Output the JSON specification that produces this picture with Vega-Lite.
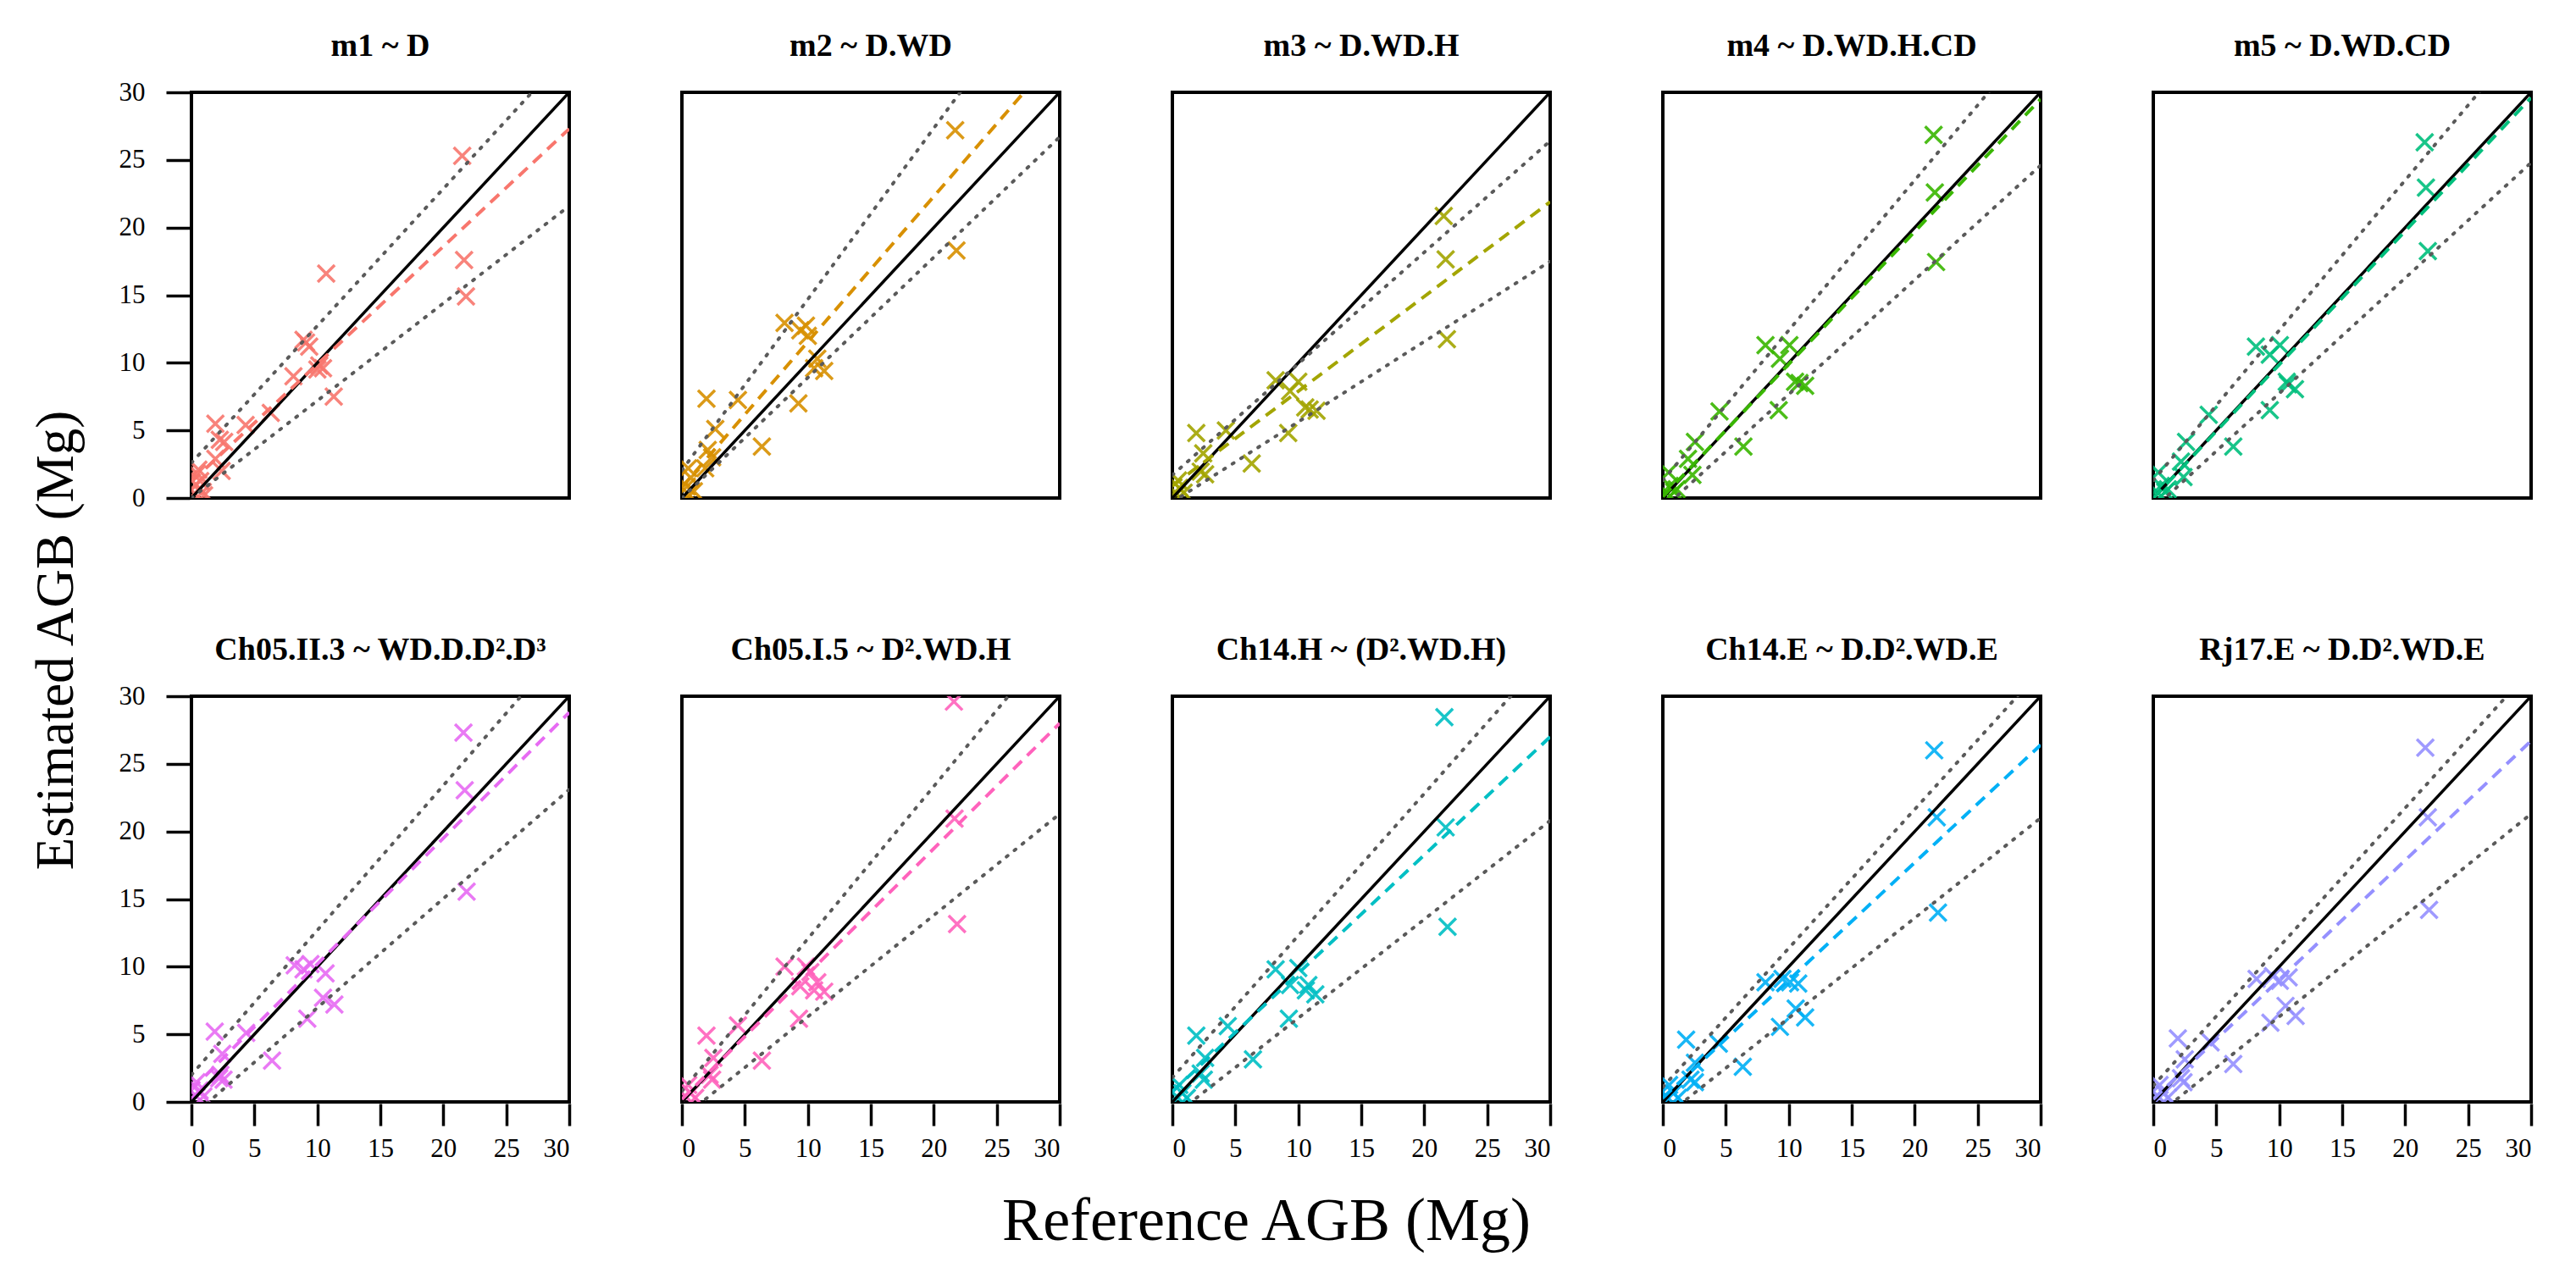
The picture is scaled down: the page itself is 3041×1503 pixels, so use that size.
{
"$schema":"https://vega.github.io/schema/vega-lite/v6.json",
"background":"white",
"padding":{"left":35,"top":34,"right":10,"bottom":10},
"config":{
  "font":"Liberation Serif",
  "view":{"stroke":"black","strokeWidth":4},
  "axis":{"grid":false,"domain":false,"labelFont":"Liberation Serif","labelFontSize":31,"labelColor":"black","tickColor":"black","tickWidth":3.5},
  "title":{"font":"Liberation Serif","fontWeight":"normal","color":"black"}
},
"title":{"text":"Estimated AGB (Mg)","orient":"left","anchor":"middle","frame":"bounds","fontSize":63,"offset":41},
"vconcat":[{
  "title":{"text":"Reference AGB (Mg)","orient":"bottom","anchor":"middle","frame":"bounds","fontSize":72,"offset":36,"dx":-70},
  "data":{"values":[
{"p":"m1 ~ D","k":"pt","x":21.5,"y":25.3},{"p":"m1 ~ D","k":"pt","x":21.65,"y":17.6},{"p":"m1 ~ D","k":"pt","x":21.8,"y":14.9},{"p":"m1 ~ D","k":"pt","x":10.7,"y":16.6},{"p":"m1 ~ D","k":"pt","x":9.1,"y":11.5},{"p":"m1 ~ D","k":"pt","x":9.35,"y":11.2},{"p":"m1 ~ D","k":"pt","x":8.9,"y":11.7},{"p":"m1 ~ D","k":"pt","x":10.15,"y":9.8},{"p":"m1 ~ D","k":"pt","x":10.45,"y":9.6},{"p":"m1 ~ D","k":"pt","x":10.0,"y":9.5},{"p":"m1 ~ D","k":"pt","x":11.3,"y":7.5},{"p":"m1 ~ D","k":"pt","x":8.1,"y":9.0},{"p":"m1 ~ D","k":"pt","x":6.3,"y":6.3},{"p":"m1 ~ D","k":"pt","x":4.3,"y":5.4},{"p":"m1 ~ D","k":"pt","x":1.9,"y":5.5},{"p":"m1 ~ D","k":"pt","x":2.25,"y":4.3},{"p":"m1 ~ D","k":"pt","x":2.6,"y":4.15},{"p":"m1 ~ D","k":"pt","x":1.9,"y":2.9},{"p":"m1 ~ D","k":"pt","x":2.4,"y":2.0},{"p":"m1 ~ D","k":"pt","x":0.45,"y":1.8},{"p":"m1 ~ D","k":"pt","x":0.7,"y":1.25},{"p":"m1 ~ D","k":"pt","x":0.35,"y":1.0},{"p":"m1 ~ D","k":"pt","x":0.9,"y":0.45},{"p":"m1 ~ D","k":"pt","x":0.25,"y":0.35},{"p":"m1 ~ D","k":"pt","x":0.55,"y":2.1},{"p":"m1 ~ D","k":"pt","x":1.0,"y":0.2},
{"p":"m1 ~ D","k":"id","x":0,"y":0},{"p":"m1 ~ D","k":"id","x":30,"y":30},{"p":"m1 ~ D","k":"fit","x":0,"y":1.2},{"p":"m1 ~ D","k":"fit","x":30,"y":27.3},{"p":"m1 ~ D","k":"up","x":0,"y":2.6},{"p":"m1 ~ D","k":"up","x":30,"y":33.0},{"p":"m1 ~ D","k":"lo","x":0,"y":0},{"p":"m1 ~ D","k":"lo","x":30,"y":21.6},
{"p":"m2 ~ D.WD","k":"pt","x":21.7,"y":27.2},{"p":"m2 ~ D.WD","k":"pt","x":21.8,"y":18.3},{"p":"m2 ~ D.WD","k":"pt","x":8.15,"y":12.95},{"p":"m2 ~ D.WD","k":"pt","x":9.85,"y":12.75},{"p":"m2 ~ D.WD","k":"pt","x":9.4,"y":12.4},{"p":"m2 ~ D.WD","k":"pt","x":10.0,"y":12.0},{"p":"m2 ~ D.WD","k":"pt","x":10.75,"y":10.3},{"p":"m2 ~ D.WD","k":"pt","x":10.5,"y":9.6},{"p":"m2 ~ D.WD","k":"pt","x":11.3,"y":9.4},{"p":"m2 ~ D.WD","k":"pt","x":9.25,"y":7.0},{"p":"m2 ~ D.WD","k":"pt","x":1.95,"y":7.35},{"p":"m2 ~ D.WD","k":"pt","x":4.45,"y":7.25},{"p":"m2 ~ D.WD","k":"pt","x":6.35,"y":3.8},{"p":"m2 ~ D.WD","k":"pt","x":2.65,"y":5.1},{"p":"m2 ~ D.WD","k":"pt","x":2.05,"y":3.55},{"p":"m2 ~ D.WD","k":"pt","x":2.4,"y":3.0},{"p":"m2 ~ D.WD","k":"pt","x":1.85,"y":2.2},{"p":"m2 ~ D.WD","k":"pt","x":0.5,"y":2.2},{"p":"m2 ~ D.WD","k":"pt","x":0.7,"y":1.5},{"p":"m2 ~ D.WD","k":"pt","x":0.4,"y":0.85},{"p":"m2 ~ D.WD","k":"pt","x":0.95,"y":0.5},{"p":"m2 ~ D.WD","k":"pt","x":0.5,"y":0.3},
{"p":"m2 ~ D.WD","k":"id","x":0,"y":0},{"p":"m2 ~ D.WD","k":"id","x":30,"y":30},{"p":"m2 ~ D.WD","k":"fit","x":0,"y":0.8},{"p":"m2 ~ D.WD","k":"fit","x":30,"y":33.05},{"p":"m2 ~ D.WD","k":"up","x":0,"y":2.05},{"p":"m2 ~ D.WD","k":"up","x":30,"y":40.0},{"p":"m2 ~ D.WD","k":"lo","x":0,"y":0},{"p":"m2 ~ D.WD","k":"lo","x":30,"y":26.7},
{"p":"m3 ~ D.WD.H","k":"pt","x":21.55,"y":20.85},{"p":"m3 ~ D.WD.H","k":"pt","x":21.7,"y":17.65},{"p":"m3 ~ D.WD.H","k":"pt","x":21.8,"y":11.75},{"p":"m3 ~ D.WD.H","k":"pt","x":8.2,"y":8.7},{"p":"m3 ~ D.WD.H","k":"pt","x":10.0,"y":8.6},{"p":"m3 ~ D.WD.H","k":"pt","x":9.35,"y":7.9},{"p":"m3 ~ D.WD.H","k":"pt","x":10.55,"y":6.7},{"p":"m3 ~ D.WD.H","k":"pt","x":10.9,"y":6.55},{"p":"m3 ~ D.WD.H","k":"pt","x":11.45,"y":6.45},{"p":"m3 ~ D.WD.H","k":"pt","x":9.2,"y":4.8},{"p":"m3 ~ D.WD.H","k":"pt","x":1.9,"y":4.8},{"p":"m3 ~ D.WD.H","k":"pt","x":4.25,"y":5.0},{"p":"m3 ~ D.WD.H","k":"pt","x":6.3,"y":2.55},{"p":"m3 ~ D.WD.H","k":"pt","x":2.45,"y":3.3},{"p":"m3 ~ D.WD.H","k":"pt","x":2.25,"y":1.95},{"p":"m3 ~ D.WD.H","k":"pt","x":2.6,"y":1.75},{"p":"m3 ~ D.WD.H","k":"pt","x":0.45,"y":1.3},{"p":"m3 ~ D.WD.H","k":"pt","x":0.55,"y":0.75},{"p":"m3 ~ D.WD.H","k":"pt","x":0.9,"y":0.4},{"p":"m3 ~ D.WD.H","k":"pt","x":0.35,"y":0.3},
{"p":"m3 ~ D.WD.H","k":"id","x":0,"y":0},{"p":"m3 ~ D.WD.H","k":"id","x":30,"y":30},{"p":"m3 ~ D.WD.H","k":"fit","x":0,"y":0.9},{"p":"m3 ~ D.WD.H","k":"fit","x":30,"y":21.9},{"p":"m3 ~ D.WD.H","k":"up","x":0,"y":1.7},{"p":"m3 ~ D.WD.H","k":"up","x":30,"y":26.4},{"p":"m3 ~ D.WD.H","k":"lo","x":0,"y":-0.3},{"p":"m3 ~ D.WD.H","k":"lo","x":30,"y":17.5},
{"p":"m4 ~ D.WD.H.CD","k":"pt","x":21.5,"y":26.85},{"p":"m4 ~ D.WD.H.CD","k":"pt","x":21.6,"y":22.6},{"p":"m4 ~ D.WD.H.CD","k":"pt","x":21.7,"y":17.45},{"p":"m4 ~ D.WD.H.CD","k":"pt","x":8.15,"y":11.3},{"p":"m4 ~ D.WD.H.CD","k":"pt","x":10.05,"y":11.3},{"p":"m4 ~ D.WD.H.CD","k":"pt","x":9.3,"y":10.3},{"p":"m4 ~ D.WD.H.CD","k":"pt","x":10.5,"y":8.6},{"p":"m4 ~ D.WD.H.CD","k":"pt","x":10.85,"y":8.5},{"p":"m4 ~ D.WD.H.CD","k":"pt","x":11.3,"y":8.3},{"p":"m4 ~ D.WD.H.CD","k":"pt","x":9.2,"y":6.5},{"p":"m4 ~ D.WD.H.CD","k":"pt","x":4.5,"y":6.4},{"p":"m4 ~ D.WD.H.CD","k":"pt","x":6.4,"y":3.8},{"p":"m4 ~ D.WD.H.CD","k":"pt","x":2.55,"y":4.15},{"p":"m4 ~ D.WD.H.CD","k":"pt","x":2.0,"y":2.9},{"p":"m4 ~ D.WD.H.CD","k":"pt","x":2.35,"y":1.7},{"p":"m4 ~ D.WD.H.CD","k":"pt","x":0.45,"y":1.9},{"p":"m4 ~ D.WD.H.CD","k":"pt","x":0.55,"y":0.9},{"p":"m4 ~ D.WD.H.CD","k":"pt","x":0.9,"y":0.45},{"p":"m4 ~ D.WD.H.CD","k":"pt","x":0.35,"y":0.35},{"p":"m4 ~ D.WD.H.CD","k":"pt","x":1.1,"y":0.65},
{"p":"m4 ~ D.WD.H.CD","k":"id","x":0,"y":0},{"p":"m4 ~ D.WD.H.CD","k":"id","x":30,"y":30},{"p":"m4 ~ D.WD.H.CD","k":"fit","x":0,"y":0.1},{"p":"m4 ~ D.WD.H.CD","k":"fit","x":30,"y":29.5},{"p":"m4 ~ D.WD.H.CD","k":"up","x":0,"y":1.3},{"p":"m4 ~ D.WD.H.CD","k":"up","x":30,"y":34.6},{"p":"m4 ~ D.WD.H.CD","k":"lo","x":0,"y":-0.8},{"p":"m4 ~ D.WD.H.CD","k":"lo","x":30,"y":24.6},
{"p":"m5 ~ D.WD.CD","k":"pt","x":21.55,"y":26.3},{"p":"m5 ~ D.WD.CD","k":"pt","x":21.65,"y":22.95},{"p":"m5 ~ D.WD.CD","k":"pt","x":21.8,"y":18.25},{"p":"m5 ~ D.WD.CD","k":"pt","x":8.15,"y":11.2},{"p":"m5 ~ D.WD.CD","k":"pt","x":10.05,"y":11.3},{"p":"m5 ~ D.WD.CD","k":"pt","x":9.25,"y":10.6},{"p":"m5 ~ D.WD.CD","k":"pt","x":10.6,"y":8.6},{"p":"m5 ~ D.WD.CD","k":"pt","x":10.7,"y":8.4},{"p":"m5 ~ D.WD.CD","k":"pt","x":11.25,"y":8.05},{"p":"m5 ~ D.WD.CD","k":"pt","x":9.25,"y":6.5},{"p":"m5 ~ D.WD.CD","k":"pt","x":4.4,"y":6.15},{"p":"m5 ~ D.WD.CD","k":"pt","x":6.35,"y":3.8},{"p":"m5 ~ D.WD.CD","k":"pt","x":2.6,"y":4.15},{"p":"m5 ~ D.WD.CD","k":"pt","x":2.2,"y":2.7},{"p":"m5 ~ D.WD.CD","k":"pt","x":2.4,"y":1.55},{"p":"m5 ~ D.WD.CD","k":"pt","x":0.4,"y":1.9},{"p":"m5 ~ D.WD.CD","k":"pt","x":0.6,"y":0.9},{"p":"m5 ~ D.WD.CD","k":"pt","x":0.95,"y":0.45},{"p":"m5 ~ D.WD.CD","k":"pt","x":0.4,"y":0.35},{"p":"m5 ~ D.WD.CD","k":"pt","x":1.15,"y":0.65},
{"p":"m5 ~ D.WD.CD","k":"id","x":0,"y":0},{"p":"m5 ~ D.WD.CD","k":"id","x":30,"y":30},{"p":"m5 ~ D.WD.CD","k":"fit","x":0,"y":0},{"p":"m5 ~ D.WD.CD","k":"fit","x":30,"y":29.6},{"p":"m5 ~ D.WD.CD","k":"up","x":0,"y":1.3},{"p":"m5 ~ D.WD.CD","k":"up","x":30,"y":34.6},{"p":"m5 ~ D.WD.CD","k":"lo","x":0,"y":-0.8},{"p":"m5 ~ D.WD.CD","k":"lo","x":30,"y":24.8},
{"p":"Ch05.II.3 ~ WD.D.D².D³","k":"pt","x":21.6,"y":27.3},{"p":"Ch05.II.3 ~ WD.D.D².D³","k":"pt","x":21.7,"y":23.05},{"p":"Ch05.II.3 ~ WD.D.D².D³","k":"pt","x":21.85,"y":15.55},{"p":"Ch05.II.3 ~ WD.D.D².D³","k":"pt","x":8.2,"y":10.1},{"p":"Ch05.II.3 ~ WD.D.D².D³","k":"pt","x":9.45,"y":10.2},{"p":"Ch05.II.3 ~ WD.D.D².D³","k":"pt","x":8.9,"y":9.8},{"p":"Ch05.II.3 ~ WD.D.D².D³","k":"pt","x":10.65,"y":9.5},{"p":"Ch05.II.3 ~ WD.D.D².D³","k":"pt","x":10.45,"y":7.7},{"p":"Ch05.II.3 ~ WD.D.D².D³","k":"pt","x":11.35,"y":7.2},{"p":"Ch05.II.3 ~ WD.D.D².D³","k":"pt","x":9.2,"y":6.15},{"p":"Ch05.II.3 ~ WD.D.D².D³","k":"pt","x":1.85,"y":5.2},{"p":"Ch05.II.3 ~ WD.D.D².D³","k":"pt","x":4.35,"y":5.1},{"p":"Ch05.II.3 ~ WD.D.D².D³","k":"pt","x":6.4,"y":3.05},{"p":"Ch05.II.3 ~ WD.D.D².D³","k":"pt","x":2.45,"y":3.55},{"p":"Ch05.II.3 ~ WD.D.D².D³","k":"pt","x":2.2,"y":1.75},{"p":"Ch05.II.3 ~ WD.D.D².D³","k":"pt","x":2.55,"y":1.65},{"p":"Ch05.II.3 ~ WD.D.D².D³","k":"pt","x":2.3,"y":2.0},{"p":"Ch05.II.3 ~ WD.D.D².D³","k":"pt","x":0.4,"y":1.45},{"p":"Ch05.II.3 ~ WD.D.D².D³","k":"pt","x":0.65,"y":0.85},{"p":"Ch05.II.3 ~ WD.D.D².D³","k":"pt","x":0.3,"y":0.5},{"p":"Ch05.II.3 ~ WD.D.D².D³","k":"pt","x":0.95,"y":0.4},
{"p":"Ch05.II.3 ~ WD.D.D².D³","k":"id","x":0,"y":0},{"p":"Ch05.II.3 ~ WD.D.D².D³","k":"id","x":30,"y":30},{"p":"Ch05.II.3 ~ WD.D.D².D³","k":"fit","x":0,"y":0.9},{"p":"Ch05.II.3 ~ WD.D.D².D³","k":"fit","x":30,"y":28.8},{"p":"Ch05.II.3 ~ WD.D.D².D³","k":"up","x":0,"y":2.0},{"p":"Ch05.II.3 ~ WD.D.D².D³","k":"up","x":30,"y":34.1},{"p":"Ch05.II.3 ~ WD.D.D².D³","k":"lo","x":0,"y":-1.1},{"p":"Ch05.II.3 ~ WD.D.D².D³","k":"lo","x":30,"y":23.1},
{"p":"Ch05.I.5 ~ D².WD.H","k":"pt","x":21.6,"y":29.6},{"p":"Ch05.I.5 ~ D².WD.H","k":"pt","x":21.65,"y":20.95},{"p":"Ch05.I.5 ~ D².WD.H","k":"pt","x":21.85,"y":13.15},{"p":"Ch05.I.5 ~ D².WD.H","k":"pt","x":8.15,"y":10.0},{"p":"Ch05.I.5 ~ D².WD.H","k":"pt","x":9.85,"y":10.0},{"p":"Ch05.I.5 ~ D².WD.H","k":"pt","x":10.2,"y":9.6},{"p":"Ch05.I.5 ~ D².WD.H","k":"pt","x":9.4,"y":8.55},{"p":"Ch05.I.5 ~ D².WD.H","k":"pt","x":10.75,"y":8.85},{"p":"Ch05.I.5 ~ D².WD.H","k":"pt","x":10.5,"y":8.25},{"p":"Ch05.I.5 ~ D².WD.H","k":"pt","x":11.3,"y":8.15},{"p":"Ch05.I.5 ~ D².WD.H","k":"pt","x":9.3,"y":6.15},{"p":"Ch05.I.5 ~ D².WD.H","k":"pt","x":1.95,"y":4.9},{"p":"Ch05.I.5 ~ D².WD.H","k":"pt","x":4.45,"y":5.65},{"p":"Ch05.I.5 ~ D².WD.H","k":"pt","x":6.35,"y":3.05},{"p":"Ch05.I.5 ~ D².WD.H","k":"pt","x":2.5,"y":3.25},{"p":"Ch05.I.5 ~ D².WD.H","k":"pt","x":2.2,"y":2.0},{"p":"Ch05.I.5 ~ D².WD.H","k":"pt","x":2.4,"y":1.65},{"p":"Ch05.I.5 ~ D².WD.H","k":"pt","x":0.5,"y":1.25},{"p":"Ch05.I.5 ~ D².WD.H","k":"pt","x":0.7,"y":0.65},{"p":"Ch05.I.5 ~ D².WD.H","k":"pt","x":0.3,"y":0.4},{"p":"Ch05.I.5 ~ D².WD.H","k":"pt","x":1.05,"y":0.3},
{"p":"Ch05.I.5 ~ D².WD.H","k":"id","x":0,"y":0},{"p":"Ch05.I.5 ~ D².WD.H","k":"id","x":30,"y":30},{"p":"Ch05.I.5 ~ D².WD.H","k":"fit","x":0,"y":0.2},{"p":"Ch05.I.5 ~ D².WD.H","k":"fit","x":30,"y":28.0},{"p":"Ch05.I.5 ~ D².WD.H","k":"up","x":0,"y":0.8},{"p":"Ch05.I.5 ~ D².WD.H","k":"up","x":30,"y":34.6},{"p":"Ch05.I.5 ~ D².WD.H","k":"lo","x":0,"y":-1.2},{"p":"Ch05.I.5 ~ D².WD.H","k":"lo","x":30,"y":21.3},
{"p":"Ch14.H ~ (D².WD.H)","k":"pt","x":21.6,"y":28.45},{"p":"Ch14.H ~ (D².WD.H)","k":"pt","x":21.7,"y":20.3},{"p":"Ch14.H ~ (D².WD.H)","k":"pt","x":21.85,"y":12.95},{"p":"Ch14.H ~ (D².WD.H)","k":"pt","x":8.2,"y":9.8},{"p":"Ch14.H ~ (D².WD.H)","k":"pt","x":10.0,"y":9.9},{"p":"Ch14.H ~ (D².WD.H)","k":"pt","x":9.35,"y":8.65},{"p":"Ch14.H ~ (D².WD.H)","k":"pt","x":10.8,"y":8.65},{"p":"Ch14.H ~ (D².WD.H)","k":"pt","x":10.6,"y":8.25},{"p":"Ch14.H ~ (D².WD.H)","k":"pt","x":11.35,"y":7.95},{"p":"Ch14.H ~ (D².WD.H)","k":"pt","x":9.25,"y":6.15},{"p":"Ch14.H ~ (D².WD.H)","k":"pt","x":1.9,"y":4.9},{"p":"Ch14.H ~ (D².WD.H)","k":"pt","x":4.4,"y":5.6},{"p":"Ch14.H ~ (D².WD.H)","k":"pt","x":6.4,"y":3.15},{"p":"Ch14.H ~ (D².WD.H)","k":"pt","x":2.6,"y":3.25},{"p":"Ch14.H ~ (D².WD.H)","k":"pt","x":2.25,"y":2.1},{"p":"Ch14.H ~ (D².WD.H)","k":"pt","x":2.5,"y":1.65},{"p":"Ch14.H ~ (D².WD.H)","k":"pt","x":0.55,"y":1.25},{"p":"Ch14.H ~ (D².WD.H)","k":"pt","x":0.8,"y":0.65},{"p":"Ch14.H ~ (D².WD.H)","k":"pt","x":0.35,"y":0.4},{"p":"Ch14.H ~ (D².WD.H)","k":"pt","x":1.15,"y":0.3},
{"p":"Ch14.H ~ (D².WD.H)","k":"id","x":0,"y":0},{"p":"Ch14.H ~ (D².WD.H)","k":"id","x":30,"y":30},{"p":"Ch14.H ~ (D².WD.H)","k":"fit","x":0,"y":0.76},{"p":"Ch14.H ~ (D².WD.H)","k":"fit","x":30,"y":27.0},{"p":"Ch14.H ~ (D².WD.H)","k":"up","x":0,"y":1.8},{"p":"Ch14.H ~ (D².WD.H)","k":"up","x":30,"y":33.3},{"p":"Ch14.H ~ (D².WD.H)","k":"lo","x":0,"y":-1.1},{"p":"Ch14.H ~ (D².WD.H)","k":"lo","x":30,"y":20.8},
{"p":"Ch14.E ~ D.D².WD.E","k":"pt","x":21.55,"y":26.0},{"p":"Ch14.E ~ D.D².WD.E","k":"pt","x":21.75,"y":21.05},{"p":"Ch14.E ~ D.D².WD.E","k":"pt","x":21.85,"y":14.0},{"p":"Ch14.E ~ D.D².WD.E","k":"pt","x":8.15,"y":8.85},{"p":"Ch14.E ~ D.D².WD.E","k":"pt","x":9.5,"y":9.1},{"p":"Ch14.E ~ D.D².WD.E","k":"pt","x":10.1,"y":8.85},{"p":"Ch14.E ~ D.D².WD.E","k":"pt","x":10.75,"y":8.75},{"p":"Ch14.E ~ D.D².WD.E","k":"pt","x":10.55,"y":6.9},{"p":"Ch14.E ~ D.D².WD.E","k":"pt","x":11.3,"y":6.25},{"p":"Ch14.E ~ D.D².WD.E","k":"pt","x":9.3,"y":5.55},{"p":"Ch14.E ~ D.D².WD.E","k":"pt","x":1.85,"y":4.6},{"p":"Ch14.E ~ D.D².WD.E","k":"pt","x":4.45,"y":4.3},{"p":"Ch14.E ~ D.D².WD.E","k":"pt","x":6.35,"y":2.6},{"p":"Ch14.E ~ D.D².WD.E","k":"pt","x":2.55,"y":2.9},{"p":"Ch14.E ~ D.D².WD.E","k":"pt","x":2.2,"y":1.65},{"p":"Ch14.E ~ D.D².WD.E","k":"pt","x":2.55,"y":1.45},{"p":"Ch14.E ~ D.D².WD.E","k":"pt","x":0.5,"y":1.25},{"p":"Ch14.E ~ D.D².WD.E","k":"pt","x":0.85,"y":0.65},{"p":"Ch14.E ~ D.D².WD.E","k":"pt","x":0.3,"y":0.4},{"p":"Ch14.E ~ D.D².WD.E","k":"pt","x":1.2,"y":0.3},
{"p":"Ch14.E ~ D.D².WD.E","k":"id","x":0,"y":0},{"p":"Ch14.E ~ D.D².WD.E","k":"id","x":30,"y":30},{"p":"Ch14.E ~ D.D².WD.E","k":"fit","x":0,"y":0.3},{"p":"Ch14.E ~ D.D².WD.E","k":"fit","x":30,"y":26.4},{"p":"Ch14.E ~ D.D².WD.E","k":"up","x":0,"y":1.1},{"p":"Ch14.E ~ D.D².WD.E","k":"up","x":30,"y":31.9},{"p":"Ch14.E ~ D.D².WD.E","k":"lo","x":0,"y":-1.2},{"p":"Ch14.E ~ D.D².WD.E","k":"lo","x":30,"y":21.0},
{"p":"Rj17.E ~ D.D².WD.E","k":"pt","x":21.6,"y":26.2},{"p":"Rj17.E ~ D.D².WD.E","k":"pt","x":21.8,"y":21.05},{"p":"Rj17.E ~ D.D².WD.E","k":"pt","x":21.9,"y":14.2},{"p":"Rj17.E ~ D.D².WD.E","k":"pt","x":8.2,"y":9.1},{"p":"Rj17.E ~ D.D².WD.E","k":"pt","x":9.5,"y":9.3},{"p":"Rj17.E ~ D.D².WD.E","k":"pt","x":10.05,"y":8.95},{"p":"Rj17.E ~ D.D².WD.E","k":"pt","x":10.75,"y":9.2},{"p":"Rj17.E ~ D.D².WD.E","k":"pt","x":10.5,"y":7.1},{"p":"Rj17.E ~ D.D².WD.E","k":"pt","x":11.3,"y":6.35},{"p":"Rj17.E ~ D.D².WD.E","k":"pt","x":9.3,"y":5.85},{"p":"Rj17.E ~ D.D².WD.E","k":"pt","x":1.95,"y":4.7},{"p":"Rj17.E ~ D.D².WD.E","k":"pt","x":4.55,"y":4.4},{"p":"Rj17.E ~ D.D².WD.E","k":"pt","x":6.35,"y":2.8},{"p":"Rj17.E ~ D.D².WD.E","k":"pt","x":2.5,"y":3.15},{"p":"Rj17.E ~ D.D².WD.E","k":"pt","x":2.2,"y":1.75},{"p":"Rj17.E ~ D.D².WD.E","k":"pt","x":2.4,"y":1.45},{"p":"Rj17.E ~ D.D².WD.E","k":"pt","x":0.5,"y":1.25},{"p":"Rj17.E ~ D.D².WD.E","k":"pt","x":0.85,"y":0.65},{"p":"Rj17.E ~ D.D².WD.E","k":"pt","x":0.4,"y":0.4},{"p":"Rj17.E ~ D.D².WD.E","k":"pt","x":1.15,"y":0.3},
{"p":"Rj17.E ~ D.D².WD.E","k":"id","x":0,"y":0},{"p":"Rj17.E ~ D.D².WD.E","k":"id","x":30,"y":30},{"p":"Rj17.E ~ D.D².WD.E","k":"fit","x":0,"y":0.2},{"p":"Rj17.E ~ D.D².WD.E","k":"fit","x":30,"y":26.7},{"p":"Rj17.E ~ D.D².WD.E","k":"up","x":0,"y":1.2},{"p":"Rj17.E ~ D.D².WD.E","k":"up","x":30,"y":32.0},{"p":"Rj17.E ~ D.D².WD.E","k":"lo","x":0,"y":-1.2},{"p":"Rj17.E ~ D.D².WD.E","k":"lo","x":30,"y":21.3}
  ]},
  "facet":{"field":"p","type":"nominal",
    "sort":["m1 ~ D","m2 ~ D.WD","m3 ~ D.WD.H","m4 ~ D.WD.H.CD","m5 ~ D.WD.CD","Ch05.II.3 ~ WD.D.D².D³","Ch05.I.5 ~ D².WD.H","Ch14.H ~ (D².WD.H)","Ch14.E ~ D.D².WD.E","Rj17.E ~ D.D².WD.E"],
    "header":{"title":null,"labelFont":"Liberation Serif","labelFontWeight":"bold","labelFontSize":38,"labelColor":"black","labelPadding":35}},
  "columns":5,
  "spacing":{"row":157,"column":129},
  "spec":{
    "width":446,"height":479,
    "encoding":{
      "x":{"field":"x","type":"quantitative","scale":{"domain":[0,30],"nice":false},"axis":{"values":[0,5,10,15,20,25,30],"title":null,"tickSize":26,"labelPadding":12}},
      "y":{"field":"y","type":"quantitative","scale":{"domain":[0,30],"nice":false},"axis":{"values":[0,5,10,15,20,25,30],"title":null,"tickSize":28,"labelPadding":25}}
    },
    "layer":[
      {"transform":[{"filter":"datum.k == 'pt'"}],
       "mark":{"type":"point","shape":"M-1,-1L1,1M-1,1L1,-1","filled":false,"size":400,"strokeWidth":3.5,"opacity":0.9,"clip":true},
       "encoding":{"color":{"field":"p","type":"nominal","legend":null,"scale":{"domain":["m1 ~ D","m2 ~ D.WD","m3 ~ D.WD.H","m4 ~ D.WD.H.CD","m5 ~ D.WD.CD","Ch05.II.3 ~ WD.D.D².D³","Ch05.I.5 ~ D².WD.H","Ch14.H ~ (D².WD.H)","Ch14.E ~ D.D².WD.E","Rj17.E ~ D.D².WD.E"],"range":["#F8766D","#D89000","#A3A500","#39B600","#00BF7D","#E76BF3","#FF62BC","#00BFC4","#00B0F6","#9590FF"]}}}},
      {"transform":[{"filter":"datum.k == 'id'"}],
       "mark":{"type":"line","color":"black","strokeWidth":3.5,"clip":true},
       "encoding":{}},
      {"transform":[{"filter":"datum.k == 'up' || datum.k == 'lo'"}],
       "mark":{"type":"line","color":"#5a5a5a","strokeWidth":4,"strokeDash":[2,10],"strokeCap":"round","clip":true},
       "encoding":{"detail":{"field":"k"}}},
      {"transform":[{"filter":"datum.k == 'fit'"}],
       "mark":{"type":"line","strokeWidth":4,"strokeDash":[14,9],"clip":true},
       "encoding":{"color":{"field":"p","type":"nominal","legend":null}}}
    ]
  }
}]
}
